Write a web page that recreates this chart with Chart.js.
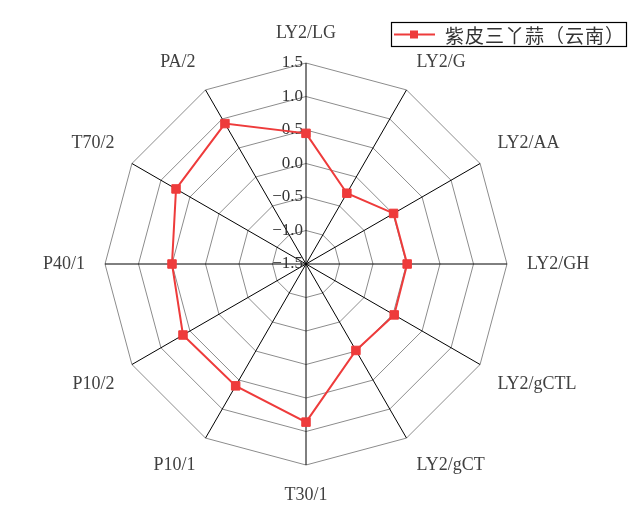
<!DOCTYPE html>
<html>
<head>
<meta charset="utf-8">
<script src="https://cdn.jsdelivr.net/npm/chart.js@4/dist/chart.umd.min.js"></script>
<style>
html,body{margin:0;padding:0;background:#fff;}
#c{display:block;}
</style>
</head>
<body>
<canvas id="c" width="643" height="529"></canvas>
<script>
const categories = ['LY2/LG','LY2/G','LY2/AA','LY2/GH','LY2/gCTL','LY2/gCT','T30/1','P10/1','P10/2','P40/1','T70/2','PA/2'];
const seriesName = '紫皮三丫蒜（云南）';
const seriesValues = [0.45, -0.28, 0.01, 0.01, 0.02, -0.01, 0.86, 0.60, 0.62, 0.50, 0.74, 0.92];
const tickValues = [-1.5, -1.0, -0.5, 0.0, 0.5, 1.0, 1.5];
const tickLabels = ['−1.5', '−1.0', '−0.5', '0.0', '0.5', '1.0', '1.5'];

const RED = '#EE3B3B';
const LABEL_FONT = '"Liberation Serif", "DejaVu Serif", serif';

const customDraw = {
  id: 'customDraw',
  beforeDatasetsDraw(chart) {
    const s = chart.scales.r;
    const ctx = chart.ctx;
    ctx.save();
    ctx.font = '17px ' + LABEL_FONT;
    ctx.fillStyle = '#333333';
    ctx.textAlign = 'right';
    ctx.textBaseline = 'middle';
    tickValues.forEach((v, i) => {
      const d = s.getDistanceFromCenterForValue(v);
      ctx.fillText(tickLabels[i], s.xCenter - 3, s.yCenter - d);
    });
    ctx.restore();
  },
  afterDraw(chart) {
    const s = chart.scales.r;
    const ctx = chart.ctx;
    ctx.save();
    // point labels
    ctx.font = '18px ' + LABEL_FONT;
    ctx.fillStyle = '#404040';
    ctx.textBaseline = 'middle';
    categories.forEach((lab, i) => {
      const p = s.getPointPosition(i, s.drawingArea + 20);
      const dx = p.x - s.xCenter, dy = p.y - s.yCenter;
      ctx.textAlign = Math.abs(dx) < 1 ? 'center' : (dx > 0 ? 'left' : 'right');
      const off = Math.abs(dy) < 1 ? 0 : (dy < 0 ? -10 : 10);
      ctx.fillText(lab, p.x, p.y + off);
    });
    // legend
    const lx = 391, ly = 22, lw = 235, lh = 24;
    ctx.strokeStyle = '#000000';
    ctx.lineWidth = 1.2;
    ctx.strokeRect(lx + 0.5, ly + 0.5, lw, lh);
    const my = ly + lh / 2 + 0.5;
    ctx.strokeStyle = RED;
    ctx.lineWidth = 2;
    ctx.beginPath();
    ctx.moveTo(lx + 3, my);
    ctx.lineTo(lx + 44, my);
    ctx.stroke();
    ctx.fillStyle = RED;
    ctx.fillRect(lx + 19, my - 4, 8, 8);
    ctx.fillStyle = '#333333';
    ctx.font = '19px "Noto Sans CJK SC", ' + LABEL_FONT;
    ctx.textAlign = 'left';
    ctx.textBaseline = 'middle';
    try { ctx.letterSpacing = '1px'; } catch (e) {}
    ctx.fillText(chart.data.datasets[0].label, lx + 54, my + 1);
    ctx.restore();
  }
};

new Chart(document.getElementById('c'), {
  type: 'radar',
  data: {
    labels: categories,
    datasets: [{
      label: seriesName,
      data: seriesValues,
      borderColor: RED,
      backgroundColor: RED,
      borderWidth: 2,
      fill: false,
      tension: 0,
      pointStyle: 'rect',
      pointRadius: 6,
      pointBorderWidth: 1,
      pointBackgroundColor: RED,
      pointBorderColor: RED
    }]
  },
  options: {
    responsive: false,
    animation: false,
    devicePixelRatio: 1,
    layout: { padding: { left: 105, right: 136, top: 63, bottom: 64 } },
    plugins: { legend: { display: false }, tooltip: { enabled: false } },
    scales: {
      r: {
        min: -1.5,
        max: 1.5,
        ticks: { display: false, stepSize: 0.5 },
        pointLabels: { display: false },
        grid: { color: '#8c8c8c', lineWidth: 1, circular: false },
        angleLines: { color: '#000000', lineWidth: 1 }
      }
    }
  },
  plugins: [customDraw]
});
</script>
</body>
</html>
